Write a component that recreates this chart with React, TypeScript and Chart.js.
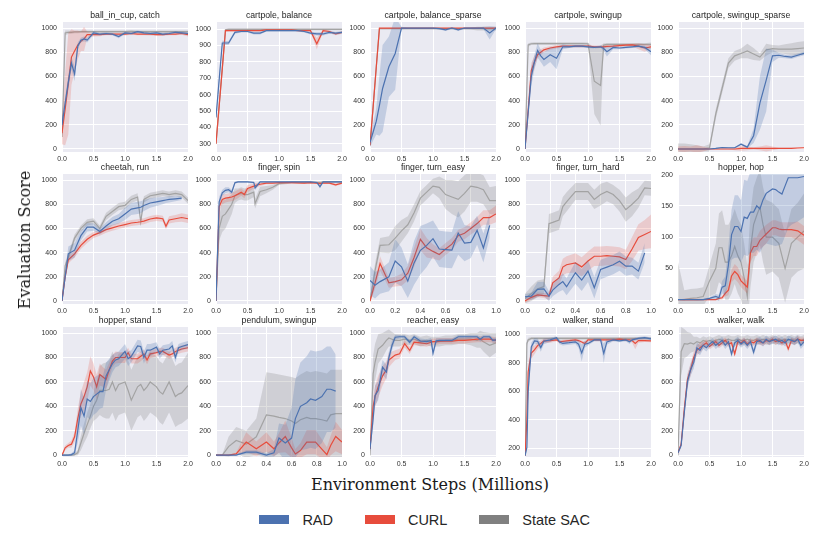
import { useEffect, useRef } from "react";
import { Chart, registerables } from "chart.js";

Chart.register(...registerables);
Chart.defaults.font.family = '"Liberation Sans", Arial, sans-serif';

const RAD_COLOR = "#4c72b0";
const CURL_COLOR = "#e74c3c";
const SAC_LINE = "#a3a3a3";
const SAC_LEGEND = "#808080";
const RAD_BAND = "rgba(76, 114, 176, 0.25)";
const CURL_BAND = "rgba(231, 76, 60, 0.2)";
const SAC_BAND = "rgba(128, 128, 128, 0.25)";

type Num = number | null;

// tick labels
const yTicks1000 = [0, 200, 400, 600, 800, 1000];
const yTicksBalance = [300, 400, 500, 600, 700, 800, 900, 1000];
const yTicksHop = [0, 50, 100, 150, 200];
const yTicksWalkerStand = [200, 400, 600, 800, 1000];
const xTicks2M = [0, 0.5, 1, 1.5, 2];
const xTicks1M = [0, 0.2, 0.4, 0.6, 0.8, 1];

// ball_in_cup, catch
const ballX = [0, 0.05, 0.1, 0.15, 0.2, 0.25, 0.3, 0.35, 0.4, 0.5, 0.6, 0.7, 0.8, 0.9, 1.0, 1.1, 1.2, 1.3, 1.4, 1.5, 1.6, 1.7, 1.8, 1.9, 2.0];
const ballRad = [200, 380, 550, 710, 620, 850, 900, 910, 900, 960, 950, 955, 950, 930, 960, 955, 970, 960, 955, 960, 950, 955, 965, 960, 955];
const ballRadSd = [40, 50, 60, 50, 60, 30, 20, 20, 20, 15, 10, 10, 10, 15, 10, 10, 10, 10, 10, 10, 10, 10, 10, 10, 10];
const ballCurl = [130, 330, 540, 760, 810, 860, 890, 910, 945, 945, 945, 950, 950, 950, 950, 955, 950, 950, 950, 945, 945, 950, 950, 955, 945];
const ballCurlSd = [90, 300, 420, 230, 170, 120, 80, 100, 25, 15, 12, 10, 10, 10, 12, 10, 10, 10, 12, 10, 10, 10, 10, 10, 15];
const ballSac = [100, 960, 965, 965, 968, 968, 970, 970, 970, 970, 970, 970, 970, 970, 970, 972, 970, 970, 970, 970, 970, 970, 970, 970, 970];
const ballSacSd = [20, 20, 15, 12, 10, 10, 10, 10, 10, 10, 10, 10, 10, 10, 10, 10, 10, 10, 10, 10, 10, 10, 10, 10, 10];

// cartpole, balance
const cpBalX = [0, 0.05, 0.1, 0.15, 0.2, 0.3, 0.4, 0.5, 0.6, 0.7, 0.8, 0.9, 1.0, 1.1, 1.2, 1.3, 1.4, 1.5, 1.6, 1.7, 1.8, 1.9, 2.0];
const cpBalRad = [460, 690, 915, 915, 915, 980, 985, 985, 975, 975, 990, 990, 990, 990, 990, 990, 985, 975, 970, 970, 980, 975, 980];
const cpBalRadSd = [20, 20, 15, 12, 12, 8, 6, 6, 8, 8, 5, 5, 5, 5, 5, 5, 6, 8, 10, 10, 8, 8, 8];
const cpBalCurl = [300, 530, 760, 990, 990, 990, 990, 990, 990, 990, 995, 995, 995, 995, 995, 990, 990, 990, 910, 990, 985, 970, 980];
const cpBalCurlSd = [10, 15, 15, 8, 5, 5, 5, 5, 5, 5, 4, 4, 4, 4, 4, 5, 5, 5, 35, 8, 8, 8, 8];
const cpBalSac = [300, 530, 760, 995, 998, 998, 998, 998, 998, 998, 998, 998, 998, 998, 998, 998, 998, 998, 998, 998, 998, 998, 998];
const cpBalSacSd = [6, 6, 6, 6, 6, 6, 6, 6, 6, 6, 6, 6, 6, 6, 6, 6, 6, 6, 6, 6, 6, 6, 6];

// cartpole, balance_sparse
const cpSparseX = [0, 0.05, 0.1, 0.15, 0.2, 0.3, 0.4, 0.5, 0.6, 0.7, 0.8, 0.9, 1.0, 1.1, 1.2, 1.3, 1.4, 1.5, 1.6, 1.7, 1.8, 1.9, 2.0];
const cpSparseRad = [55, 140, 230, 360, 500, 680, 790, 1000, 1000, 1000, 1000, 1000, 1000, 995, 985, 1000, 985, 1000, 1000, 1000, 1000, 960, 1000];
const cpSparseRadSd = [40, 70, 110, 250, 360, 250, 300, 10, 5, 5, 5, 5, 5, 8, 10, 8, 10, 5, 5, 5, 10, 55, 10];
const cpSparseCurl = [30, 350, 680, 1000, 1000, 1000, 1000, 1000, 1000, 1000, 1000, 1000, 1000, 1000, 1000, 1000, 1000, 1000, 1000, 1000, 1000, 1000, 1000];
const cpSparseCurlSd = [10, 10, 10, 3, 3, 3, 3, 3, 3, 3, 3, 3, 3, 3, 3, 3, 3, 3, 3, 3, 3, 3, 3];
const cpSparseSac = [30, 350, 680, 995, 995, 995, 995, 995, 995, 995, 995, 995, 995, 995, 995, 995, 995, 995, 995, 995, 995, 995, 995];
const cpSparseSacSd = [5, 5, 5, 5, 5, 5, 5, 5, 5, 5, 5, 5, 5, 5, 5, 5, 5, 5, 8, 15, 15, 15, 15];

// cartpole, swingup
const cpSwingX = [0, 0.05, 0.1, 0.15, 0.2, 0.25, 0.3, 0.4, 0.5, 0.6, 0.7, 0.8, 0.9, 1.0, 1.1, 1.2, 1.25, 1.3, 1.4, 1.5, 1.6, 1.7, 1.8, 1.9, 2.0];
const cpSwingRad = [0, 300, 600, 720, 815, 770, 740, 780, 750, 845, 845, 850, 850, 845, 840, 845, 830, 805, 840, 835, 840, 845, 850, 840, 805];
const cpSwingRadSd = [10, 50, 80, 60, 60, 50, 60, 60, 90, 20, 10, 10, 10, 10, 10, 10, 20, 40, 15, 10, 10, 10, 10, 15, 30];
const cpSwingCurl = [0, 320, 650, 720, 780, 800, 820, 835, 845, 850, 850, 850, 850, 850, 845, 845, 845, 848, 850, 855, 858, 860, 850, 835, 845];
const cpSwingCurlSd = [10, 40, 60, 50, 30, 25, 20, 15, 15, 10, 10, 10, 10, 10, 10, 10, 10, 10, 10, 10, 10, 10, 25, 30, 15];
const cpSwingSac = [0, 860, 870, 872, 872, 872, 872, 872, 872, 872, 872, 872, 872, 870, 560, 525, 860, 865, 865, 865, 865, 865, 865, 865, 865];
const cpSwingSacSd = [10, 15, 10, 10, 10, 10, 10, 10, 10, 10, 10, 10, 10, 10, 270, 330, 15, 10, 10, 10, 10, 10, 10, 10, 15];

// cartpole, swingup_sparse
const cpSwSpX = [0, 0.1, 0.2, 0.3, 0.4, 0.5, 0.6, 0.7, 0.8, 0.9, 1.0, 1.1, 1.2, 1.3, 1.4, 1.5, 1.6, 1.7, 1.8, 1.9, 2.0];
const cpSwSpRad = [0, 0, 0, 0, 0, 0, 5, 12, 10, 10, 40, 15, 110, 380, 570, 770, 775, 765, 760, 775, 790];
const cpSwSpRadSd = [0, 0, 0, 0, 0, 0, 5, 5, 5, 5, 10, 10, 60, 220, 260, 50, 20, 15, 15, 15, 15];
const cpSwSpCurl = [0, 0, 0, 0, 0, 0, 0, 0, 0, 0, 5, 5, 5, 5, 5, 5, 5, 5, 5, 8, 10];
const cpSwSpCurlSd = [20, 25, 20, 30, 20, 5, 5, 5, 5, 10, 20, 15, 10, 15, 25, 15, 5, 5, 5, 5, 5];
const cpSwSpSac = [0, 0, 0, 0, 0, 10, 290, 500, 710, 770, 790, 810, 785, 760, 820, 830, 825, 825, 825, 830, 835];
const cpSwSpSacSd = [45, 45, 40, 30, 20, 30, 40, 40, 40, 40, 40, 60, 50, 30, 50, 30, 30, 40, 50, 55, 55];

// cheetah, run
const cheetahX = [0, 0.05, 0.1, 0.2, 0.3, 0.4, 0.5, 0.6, 0.7, 0.8, 0.9, 1.0, 1.1, 1.2, 1.25, 1.3, 1.4, 1.5, 1.6, 1.65, 1.7, 1.8, 1.9, 2.0];
const cheetahRad: Num[] = [0, 200, 390, 420, 540, 610, 610, 575, 620, 660, 680, 720, 760, 770, 775, 790, 810, 820, 830, 835, 840, 845, 850, null];
const cheetahRadSd: Num[] = [10, 40, 60, 60, 40, 35, 30, 25, 30, 35, 40, 50, 50, 50, 50, 45, 40, 35, 30, 25, 25, 20, 15, null];
const cheetahCurl = [0, 200, 340, 390, 460, 510, 545, 565, 590, 605, 620, 632, 645, 651, 655, 660, 678, 687, 680, 618, 670, 680, 690, 680];
const cheetahCurlSd = [10, 30, 30, 30, 30, 30, 25, 25, 25, 25, 25, 25, 25, 25, 25, 25, 25, 25, 25, 25, 30, 30, 35, 35];
const cheetahSac = [0, 290, 360, 520, 600, 650, 660, 600, 700, 740, 780, 790, 840, 860, 655, 840, 870, 880, 890, 885, 880, 890, 880, 830];
const cheetahSacSd = [10, 30, 30, 30, 25, 25, 25, 25, 30, 30, 30, 30, 30, 30, 20, 25, 25, 25, 25, 25, 25, 25, 25, 25];

// finger, spin
const fSpinX = [0, 0.05, 0.1, 0.15, 0.2, 0.25, 0.3, 0.35, 0.4, 0.45, 0.5, 0.6, 0.62, 0.7, 0.8, 0.9, 1.0, 1.2, 1.4, 1.5, 1.6, 1.65, 1.7, 1.8, 1.9, 2.0];
const fSpinRad = [0, 820, 895, 915, 920, 900, 978, 985, 985, 985, 985, 980, 935, 985, 985, 985, 985, 985, 985, 985, 980, 945, 985, 985, 985, 985];
const fSpinRadSd = [5, 40, 25, 25, 20, 20, 10, 8, 8, 8, 8, 8, 20, 8, 5, 5, 5, 5, 5, 5, 5, 15, 5, 5, 5, 5];
const fSpinCurl = [0, 780, 840, 850, 855, 860, 870, 885, 900, 880, 930, 950, 955, 965, 975, 975, 978, 978, 975, 978, 975, 970, 975, 975, 960, 975];
const fSpinCurlSd = [5, 40, 40, 35, 35, 35, 35, 35, 30, 30, 30, 20, 20, 15, 10, 10, 8, 8, 8, 8, 8, 8, 8, 8, 12, 8];
const fSpinSac = [0, 600, 700, 720, 760, 800, 870, 880, 890, 880, 880, 900, 805, 905, 920, 940, 970, 980, 980, 980, 980, 980, 985, 985, 985, 985];
const fSpinSacSd = [5, 100, 130, 120, 100, 80, 60, 50, 50, 50, 50, 40, 40, 40, 30, 20, 10, 8, 8, 8, 8, 8, 8, 8, 8, 8];

// finger, turn_easy
const fEasyX = [0, 0.04, 0.08, 0.15, 0.2, 0.25, 0.3, 0.35, 0.4, 0.45, 0.5, 0.55, 0.6, 0.65, 0.7, 0.75, 0.8, 0.85, 0.9, 0.95, 1.0];
const fEasyRad: Num[] = [170, 130, 160, 200, 330, 282, 164, 315, 419, 460, 515, 430, 425, 420, 562, 479, 485, 584, 438, 625, null];
const fEasyRadSd: Num[] = [120, 110, 100, 120, 180, 160, 140, 180, 200, 180, 150, 150, 150, 150, 180, 150, 130, 120, 120, 100, null];
const fEasyCurl = [0, 150, 310, 150, 160, 175, 230, 360, 510, 440, 410, 385, 430, 470, 540, 560, 600, 640, 690, 690, 720];
const fEasyCurlSd = [10, 50, 60, 40, 40, 50, 60, 80, 90, 80, 60, 50, 50, 50, 50, 50, 50, 55, 60, 60, 70];
const fEasySac = [0, 250, 460, 465, 520, 580, 630, 730, 850, 900, 950, 940, 880, 860, 840, 890, 950, 940, 920, 830, 830];
const fEasySacSd = [20, 60, 60, 70, 100, 90, 70, 70, 60, 60, 60, 90, 120, 140, 150, 150, 130, 120, 120, 110, 120];

// finger, turn_hard
const fHardX = [0, 0.05, 0.1, 0.15, 0.19, 0.22, 0.27, 0.3, 0.33, 0.4, 0.45, 0.5, 0.55, 0.6, 0.65, 0.7, 0.75, 0.8, 0.85, 0.9, 0.95, 1.0];
const fHardRad: Num[] = [35, 40, 96, 100, 40, 90, 137, 160, 118, 233, 173, 247, 110, 260, 280, 300, 329, 288, 288, 247, 398, null];
const fHardRadSd: Num[] = [20, 30, 60, 60, 40, 50, 60, 70, 70, 90, 90, 90, 90, 80, 80, 80, 80, 80, 70, 70, 80, null];
const fHardCurl = [0, 30, 50, 45, 40, 150, 190, 280, 300, 315, 282, 330, 370, 370, 375, 370, 365, 343, 430, 525, 550, 575];
const fHardCurlSd = [15, 20, 20, 20, 30, 50, 60, 70, 70, 80, 80, 80, 80, 80, 80, 80, 80, 80, 100, 110, 120, 140];
const fHardSac = [20, 60, 100, 120, 640, 650, 670, 780, 820, 905, 905, 905, 840, 880, 905, 880, 830, 755, 800, 850, 935, 930];
const fHardSacSd = [40, 60, 70, 60, 80, 80, 80, 80, 80, 70, 70, 70, 80, 90, 80, 80, 90, 100, 100, 80, 60, 60];

// hopper, hop
const hopX = [0, 0.1, 0.2, 0.3, 0.4, 0.5, 0.6, 0.65, 0.7, 0.75, 0.8, 0.85, 0.9, 0.95, 1.0, 1.05, 1.1, 1.15, 1.2, 1.25, 1.3, 1.35, 1.4, 1.5, 1.55, 1.6, 1.65, 1.7, 1.75, 1.8, 1.9, 2.0];
const hopRad = [0, 0, 0, 0, 0, 2, 5, 3, 20, 22, 55, 104, 117, 117, 109, 132, 130, 140, 140, 150, 145, 160, 170, 177, 176, 172, 169, 182, 195, 195, 195, 197];
const hopRadSd = [0, 0, 0, 1, 1, 2, 4, 5, 10, 15, 30, 40, 50, 50, 50, 60, 60, 65, 65, 70, 70, 75, 80, 90, 90, 85, 80, 80, 80, 75, 70, 65];
const hopCurl = [0, 0, 0, 0, 0, 0, 0, 2, 3, 10, 15, 38, 45, 40, 30, 25, 20, 75, 85, 85, 95, 100, 105, 115, 115, 113, 112, 112, 112, 112, 110, 103];
const hopCurlSd = [0, 2, 2, 2, 1, 1, 1, 2, 3, 5, 8, 10, 12, 12, 10, 10, 10, 15, 15, 15, 15, 15, 15, 12, 12, 12, 12, 12, 12, 12, 15, 15];
const hopSac = [0, 0, 2, 3, 5, 30, 50, 83, 83, 60, 60, 70, 85, 70, 60, 35, 5, 80, 120, 135, 148, 120, 100, 100, 95, 90, 70, 50, 70, 90, 100, 110];
const hopSacSd = [60, 15, 15, 15, 15, 25, 40, 55, 60, 60, 60, 60, 60, 60, 60, 55, 50, 60, 60, 60, 60, 60, 60, 55, 55, 55, 55, 55, 55, 55, 55, 60];

// hopper, stand
const hStandX = [0, 0.05, 0.1, 0.15, 0.2, 0.25, 0.3, 0.35, 0.4, 0.45, 0.5, 0.55, 0.6, 0.65, 0.7, 0.75, 0.8, 0.85, 0.9, 1.0, 1.05, 1.1, 1.2, 1.25, 1.3, 1.35, 1.4, 1.5, 1.55, 1.6, 1.7, 1.75, 1.8, 1.85, 1.9, 2.0];
const hStandRad = [0, 0, 0, 5, 20, 200, 390, 320, 460, 440, 480, 500, 520, 520, 650, 700, 750, 780, 790, 850, 790, 810, 895, 890, 800, 860, 860, 885, 830, 860, 870, 895, 800, 880, 890, 905];
const hStandRadSd = [5, 5, 5, 10, 20, 100, 150, 150, 150, 150, 150, 150, 140, 130, 110, 90, 70, 60, 60, 60, 60, 50, 50, 50, 50, 50, 50, 40, 40, 40, 40, 40, 40, 30, 30, 30];
const hStandCurl = [0, 60, 80, 90, 150, 300, 420, 480, 560, 690, 640, 560, 660, 640, 620, 700, 770, 800, 800, 800, 840, 790, 790, 810, 830, 780, 830, 840, 850, 850, 820, 830, 850, 860, 870, 880];
const hStandCurlSd = [10, 20, 20, 30, 40, 80, 100, 120, 120, 120, 110, 100, 90, 80, 80, 60, 50, 50, 45, 45, 40, 40, 40, 40, 35, 35, 35, 30, 30, 30, 30, 30, 30, 30, 30, 30];
const hStandSac = [0, 0, 0, 0, 5, 20, 100, 180, 250, 320, 400, 450, 530, 530, 530, 540, 600, 530, 580, 600, 530, 450, 560, 580, 530, 560, 600, 560, 520, 500, 600, 540, 480, 500, 510, 570];
const hStandSacSd = [5, 5, 5, 5, 10, 20, 60, 80, 100, 100, 120, 150, 200, 220, 230, 240, 250, 250, 250, 250, 250, 250, 250, 250, 250, 250, 250, 250, 250, 250, 250, 250, 250, 250, 250, 270];

// pendulum, swingup
const pendX = [0, 0.05, 0.1, 0.16, 0.24, 0.32, 0.4, 0.46, 0.5, 0.55, 0.6, 0.63, 0.67, 0.72, 0.75, 0.79, 0.84, 0.88, 0.91, 0.95, 1.0];
const pendRad: Num[] = [0, 0, 0, 0, 25, 25, 0, 20, 140, 100, 140, 300, 400, 430, 460, 450, 480, 540, 540, 525, null];
const pendRadSd: Num[] = [5, 5, 5, 5, 15, 15, 15, 30, 120, 150, 250, 320, 360, 380, 400, 400, 380, 350, 350, 300, null];
const pendCurl = [0, 0, 0, 10, 107, 52, 107, 52, 100, 153, 60, 10, 38, 107, 107, 107, 50, 5, 80, 153, 107];
const pendCurlSd = [5, 5, 5, 10, 80, 60, 80, 60, 80, 130, 80, 40, 60, 100, 100, 100, 80, 60, 80, 120, 100];
const pendSac = [0, 0, 70, 120, 90, 150, 330, 320, 310, 300, 280, 260, 290, 310, 300, 300, 290, 280, 330, 340, 340];
const pendSacSd = [5, 5, 80, 110, 110, 150, 350, 350, 350, 350, 360, 370, 370, 380, 380, 390, 390, 390, 370, 360, 360];

// reacher, easy
const reacherX = [0, 0.05, 0.08, 0.13, 0.2, 0.26, 0.3, 0.35, 0.4, 0.47, 0.55, 0.63, 0.7, 0.8, 0.9, 0.97, 1.0, 1.05, 1.1, 1.2, 1.3, 1.4, 1.5, 1.6, 1.7, 1.75, 1.8, 1.9, 1.95, 2.0];
const reacherRad = [50, 300, 489, 530, 720, 680, 800, 900, 966, 970, 970, 925, 970, 935, 930, 940, 836, 937, 940, 940, 940, 970, 970, 970, 970, 950, 970, 970, 940, 945];
const reacherRadSd = [20, 60, 80, 80, 60, 60, 50, 40, 20, 15, 15, 20, 15, 20, 20, 20, 40, 20, 15, 15, 15, 15, 15, 15, 15, 20, 15, 15, 20, 20];
const reacherCurl = [50, 400, 480, 560, 650, 700, 780, 800, 820, 831, 913, 858, 926, 920, 913, 925, 930, 930, 935, 935, 935, 940, 940, 945, 950, 950, 950, 950, 945, 940];
const reacherCurlSd = [20, 80, 90, 90, 80, 70, 60, 50, 40, 40, 30, 30, 25, 25, 25, 25, 25, 25, 25, 25, 25, 25, 25, 25, 25, 25, 25, 25, 25, 25];
const reacherSac = [0, 667, 760, 870, 900, 940, 960, 950, 940, 940, 950, 940, 950, 930, 940, 930, 930, 930, 930, 940, 940, 950, 950, 950, 940, 950, 930, 900, 910, 920];
const reacherSacSd = [20, 150, 150, 120, 100, 80, 70, 60, 50, 50, 40, 40, 40, 40, 40, 40, 40, 40, 40, 40, 40, 40, 40, 50, 60, 70, 80, 100, 90, 80];

// walker, stand
const wStandX = [0, 0.03, 0.05, 0.1, 0.15, 0.2, 0.25, 0.3, 0.4, 0.5, 0.55, 0.6, 0.7, 0.8, 0.85, 0.9, 0.95, 1.0, 1.1, 1.2, 1.25, 1.3, 1.4, 1.5, 1.6, 1.66, 1.7, 1.75, 1.8, 1.9, 2.0];
const wStandRad = [148, 207, 600, 911, 953, 950, 906, 950, 960, 975, 945, 935, 940, 946, 930, 868, 930, 935, 960, 960, 866, 946, 960, 953, 960, 946, 960, 965, 970, 975, 967];
const wStandRadSd = [10, 20, 60, 30, 20, 20, 30, 20, 15, 10, 15, 15, 15, 15, 25, 60, 25, 15, 10, 10, 70, 20, 10, 10, 10, 15, 10, 10, 10, 10, 10];
const wStandCurl = [148, 400, 735, 868, 890, 920, 935, 953, 955, 960, 946, 950, 955, 960, 955, 945, 935, 960, 960, 960, 960, 960, 960, 965, 960, 960, 955, 935, 955, 955, 953];
const wStandCurlSd = [10, 40, 60, 40, 30, 25, 20, 15, 15, 10, 10, 10, 10, 10, 10, 10, 15, 10, 10, 10, 10, 10, 10, 10, 10, 10, 15, 40, 15, 10, 10];
const wStandSac = [150, 935, 960, 970, 970, 970, 970, 970, 970, 970, 970, 970, 970, 970, 970, 970, 970, 970, 970, 970, 970, 970, 970, 970, 970, 970, 970, 970, 970, 970, 970];
const wStandSacSd = [10, 20, 15, 10, 10, 10, 10, 10, 10, 10, 10, 10, 10, 10, 10, 10, 10, 10, 10, 10, 10, 10, 10, 10, 10, 10, 10, 10, 10, 10, 10];

// walker, walk
const wWalkX = [0, 0.05, 0.1, 0.15, 0.2, 0.25, 0.3, 0.35, 0.4, 0.45, 0.5, 0.55, 0.6, 0.65, 0.7, 0.75, 0.8, 0.85, 0.9, 0.95, 1.0, 1.05, 1.1, 1.15, 1.2, 1.25, 1.3, 1.35, 1.4, 1.45, 1.5, 1.55, 1.6, 1.65, 1.7, 1.75, 1.8, 1.85, 1.9, 1.95, 2.0];
const wWalkRad = [20, 80, 350, 600, 700, 760, 880, 858, 900, 880, 910, 930, 900, 920, 940, 900, 930, 830, 920, 940, 910, 930, 900, 930, 844, 930, 940, 920, 950, 930, 940, 950, 930, 940, 920, 950, 940, 930, 950, 900, 930];
const wWalkRadSd = [10, 20, 40, 50, 50, 50, 40, 40, 30, 30, 30, 30, 30, 30, 30, 30, 30, 30, 30, 30, 30, 30, 30, 30, 30, 30, 30, 30, 30, 30, 30, 30, 30, 30, 30, 30, 30, 30, 30, 30, 30];
const wWalkCurl = [20, 90, 380, 620, 700, 800, 860, 880, 900, 920, 890, 910, 930, 900, 920, 940, 910, 920, 830, 930, 920, 940, 910, 930, 920, 940, 930, 920, 940, 930, 950, 930, 940, 920, 940, 871, 940, 930, 950, 940, 940];
const wWalkCurlSd = [10, 20, 40, 50, 50, 50, 40, 40, 30, 30, 25, 25, 25, 25, 25, 25, 25, 25, 25, 25, 25, 25, 25, 25, 25, 25, 25, 25, 25, 25, 25, 25, 25, 25, 25, 25, 25, 25, 25, 25, 25];
const wWalkSac = [0, 850, 913, 910, 920, 910, 930, 920, 940, 930, 940, 930, 940, 950, 940, 940, 950, 940, 940, 950, 940, 940, 950, 940, 940, 950, 940, 950, 940, 940, 950, 940, 950, 940, 950, 940, 950, 940, 950, 940, 950];
const wWalkSacSd = [20, 200, 120, 100, 80, 60, 40, 35, 35, 35, 35, 35, 35, 35, 35, 35, 35, 35, 35, 35, 35, 35, 35, 35, 35, 35, 35, 35, 35, 35, 35, 35, 35, 35, 35, 35, 35, 35, 35, 35, 35];

interface PanelData {
  title: string;
  x: number[];
  rad: Num[];
  radSd: Num[];
  curl: Num[];
  curlSd: Num[];
  sac: Num[];
  sacSd: Num[];
  yMin: number;
  yMax: number;
  yTicks: number[];
  xMax: number;
  xTicks: number[];
}

const panels: PanelData[] = [
  { title: "ball_in_cup, catch", x: ballX, rad: ballRad, radSd: ballRadSd, curl: ballCurl, curlSd: ballCurlSd, sac: ballSac, sacSd: ballSacSd, yMin: -25, yMax: 1050, yTicks: yTicks1000, xMax: 2, xTicks: xTicks2M },
  { title: "cartpole, balance", x: cpBalX, rad: cpBalRad, radSd: cpBalRadSd, curl: cpBalCurl, curlSd: cpBalCurlSd, sac: cpBalSac, sacSd: cpBalSacSd, yMin: 250, yMax: 1043, yTicks: yTicksBalance, xMax: 2, xTicks: xTicks2M },
  { title: "cartpole, balance_sparse", x: cpSparseX, rad: cpSparseRad, radSd: cpSparseRadSd, curl: cpSparseCurl, curlSd: cpSparseCurlSd, sac: cpSparseSac, sacSd: cpSparseSacSd, yMin: -25, yMax: 1050, yTicks: yTicks1000, xMax: 2, xTicks: xTicks2M },
  { title: "cartpole, swingup", x: cpSwingX, rad: cpSwingRad, radSd: cpSwingRadSd, curl: cpSwingCurl, curlSd: cpSwingCurlSd, sac: cpSwingSac, sacSd: cpSwingSacSd, yMin: -25, yMax: 1050, yTicks: yTicks1000, xMax: 2, xTicks: xTicks2M },
  { title: "cartpole, swingup_sparse", x: cpSwSpX, rad: cpSwSpRad, radSd: cpSwSpRadSd, curl: cpSwSpCurl, curlSd: cpSwSpCurlSd, sac: cpSwSpSac, sacSd: cpSwSpSacSd, yMin: -25, yMax: 1050, yTicks: yTicks1000, xMax: 2, xTicks: xTicks2M },
  { title: "cheetah, run", x: cheetahX, rad: cheetahRad, radSd: cheetahRadSd, curl: cheetahCurl, curlSd: cheetahCurlSd, sac: cheetahSac, sacSd: cheetahSacSd, yMin: -25, yMax: 1050, yTicks: yTicks1000, xMax: 2, xTicks: xTicks2M },
  { title: "finger, spin", x: fSpinX, rad: fSpinRad, radSd: fSpinRadSd, curl: fSpinCurl, curlSd: fSpinCurlSd, sac: fSpinSac, sacSd: fSpinSacSd, yMin: -25, yMax: 1050, yTicks: yTicks1000, xMax: 2, xTicks: xTicks2M },
  { title: "finger, turn_easy", x: fEasyX, rad: fEasyRad, radSd: fEasyRadSd, curl: fEasyCurl, curlSd: fEasyCurlSd, sac: fEasySac, sacSd: fEasySacSd, yMin: -25, yMax: 1050, yTicks: yTicks1000, xMax: 1, xTicks: xTicks1M },
  { title: "finger, turn_hard", x: fHardX, rad: fHardRad, radSd: fHardRadSd, curl: fHardCurl, curlSd: fHardCurlSd, sac: fHardSac, sacSd: fHardSacSd, yMin: -25, yMax: 1050, yTicks: yTicks1000, xMax: 1, xTicks: xTicks1M },
  { title: "hopper, hop", x: hopX, rad: hopRad, radSd: hopRadSd, curl: hopCurl, curlSd: hopCurlSd, sac: hopSac, sacSd: hopSacSd, yMin: -7, yMax: 201, yTicks: yTicksHop, xMax: 2, xTicks: xTicks2M },
  { title: "hopper, stand", x: hStandX, rad: hStandRad, radSd: hStandRadSd, curl: hStandCurl, curlSd: hStandCurlSd, sac: hStandSac, sacSd: hStandSacSd, yMin: -15, yMax: 1050, yTicks: yTicks1000, xMax: 2, xTicks: xTicks2M },
  { title: "pendulum, swingup", x: pendX, rad: pendRad, radSd: pendRadSd, curl: pendCurl, curlSd: pendCurlSd, sac: pendSac, sacSd: pendSacSd, yMin: -15, yMax: 1050, yTicks: yTicks1000, xMax: 1, xTicks: xTicks1M },
  { title: "reacher, easy", x: reacherX, rad: reacherRad, radSd: reacherRadSd, curl: reacherCurl, curlSd: reacherCurlSd, sac: reacherSac, sacSd: reacherSacSd, yMin: -15, yMax: 1050, yTicks: yTicks1000, xMax: 2, xTicks: xTicks2M },
  { title: "walker, stand", x: wStandX, rad: wStandRad, radSd: wStandRadSd, curl: wStandCurl, curlSd: wStandCurlSd, sac: wStandSac, sacSd: wStandSacSd, yMin: 140, yMax: 1050, yTicks: yTicksWalkerStand, xMax: 2, xTicks: xTicks2M },
  { title: "walker, walk", x: wWalkX, rad: wWalkRad, radSd: wWalkRadSd, curl: wWalkCurl, curlSd: wWalkCurlSd, sac: wWalkSac, sacSd: wWalkSacSd, yMin: -15, yMax: 1050, yTicks: yTicks1000, xMax: 2, xTicks: xTicks2M },
];

// panel geometry (plot area of each subplot)
const PLOT_W = 126;
const PLOT_H = 130;
const AXIS_W = 34;
const TOP_PAD = 20;
const XAXIS_H = 14;
const RIGHT_PAD = 8;
const colLeft = [62, 216, 370, 525, 678];
const rowTop = [22, 174, 327];

function SmallChart({ panel, left, top }: { panel: PanelData; left: number; top: number }) {
  const canvasRef = useRef<HTMLCanvasElement>(null);

  useEffect(() => {
    if (!canvasRef.current) return;

    const pts = (arr: Num[]) => panel.x.map((xv, i) => ({ x: xv, y: arr[i] }));
    const offset = (mean: Num[], sd: Num[], sign: number) =>
      mean.map((v, i) => (v === null || sd[i] === null ? null : v + sign * (sd[i] as number)));

    // band (lo, hi filled to lo) + mean line; lower order is drawn on top
    const series = (mean: Num[], sd: Num[], line: string, band: string, order: number) => [
      { data: pts(offset(mean, sd, -1)), borderColor: "transparent", borderWidth: 0, fill: false, order: order + 1 },
      { data: pts(offset(mean, sd, 1)), borderColor: "transparent", borderWidth: 0, backgroundColor: band, fill: "-1", order: order + 1 },
      { data: pts(mean), borderColor: line, borderWidth: 1.2, fill: false, order },
    ];

    const decor = {
      id: "panelDecor",
      beforeDraw(chart: Chart) {
        const { ctx, chartArea: a } = chart;
        ctx.save();
        ctx.fillStyle = "#eaeaf2";
        ctx.fillRect(a.left, a.top, a.right - a.left, a.bottom - a.top);
        ctx.restore();
      },
      afterDraw(chart: Chart) {
        const { ctx, chartArea: a } = chart;
        ctx.save();
        ctx.font = '8.7px "Liberation Sans", Arial, sans-serif';
        ctx.fillStyle = "#262626";
        ctx.textAlign = "center";
        ctx.textBaseline = "alphabetic";
        ctx.fillText(panel.title, (a.left + a.right) / 2, a.top - 4.5);
        ctx.restore();
      },
    };

    const chart = new Chart(canvasRef.current, {
      type: "line",
      data: {
        datasets: [
          ...series(panel.sac, panel.sacSd, SAC_LINE, SAC_BAND, 5),
          ...series(panel.curl, panel.curlSd, CURL_COLOR, CURL_BAND, 3),
          ...series(panel.rad, panel.radSd, RAD_COLOR, RAD_BAND, 1),
        ] as any,
      },
      options: {
        animation: false,
        responsive: false,
        events: [],
        layout: { padding: { top: TOP_PAD, right: RIGHT_PAD, left: 0, bottom: 0 } },
        elements: { point: { radius: 0 }, line: { tension: 0 } },
        plugins: { legend: { display: false }, tooltip: { enabled: false } },
        scales: {
          x: {
            type: "linear",
            min: 0,
            max: panel.xMax,
            afterBuildTicks: (s: any) => {
              s.ticks = panel.xTicks.map((v) => ({ value: v }));
            },
            afterFit: (s: any) => {
              s.height = XAXIS_H;
            },
            grid: { color: "#ffffff", lineWidth: 1, drawTicks: false },
            border: { display: false },
            ticks: {
              padding: 3,
              color: "#333333",
              font: { size: 7 },
              autoSkip: false,
              maxRotation: 0,
              callback: (v: any) => Number(v).toFixed(1),
            },
          },
          y: {
            type: "linear",
            min: panel.yMin,
            max: panel.yMax,
            afterBuildTicks: (s: any) => {
              s.ticks = panel.yTicks.map((v) => ({ value: v }));
            },
            afterFit: (s: any) => {
              s.width = AXIS_W;
            },
            grid: { color: "#ffffff", lineWidth: 1, drawTicks: false },
            border: { display: false },
            ticks: {
              padding: 5,
              color: "#333333",
              font: { size: 7 },
              autoSkip: false,
              callback: (v: any) => String(v),
            },
          },
        },
      },
      plugins: [decor],
    });

    return () => {
      chart.destroy();
    };
  }, [panel]);

  return (
    <canvas
      ref={canvasRef}
      width={PLOT_W + AXIS_W + RIGHT_PAD}
      height={PLOT_H + TOP_PAD + XAXIS_H}
      style={{ position: "absolute", left: left - AXIS_W, top: top - TOP_PAD }}
    />
  );
}

const legendItems = [
  { label: "RAD", color: RAD_COLOR },
  { label: "CURL", color: CURL_COLOR },
  { label: "State SAC", color: SAC_LEGEND },
];

export default function App() {
  return (
    <div
      style={{
        position: "fixed",
        left: 0,
        top: 0,
        width: 831,
        height: 538,
        background: "#ffffff",
        overflow: "hidden",
      }}
    >
      {panels.map((p, i) => (
        <SmallChart key={p.title} panel={p} left={colLeft[i % 5]} top={rowTop[Math.floor(i / 5)]} />
      ))}
      <div
        style={{
          position: "absolute",
          left: 24.5,
          top: 240,
          transform: "translate(-50%, -50%) rotate(-90deg)",
          whiteSpace: "nowrap",
          fontFamily: '"DejaVu Serif", serif',
          fontSize: 16,
          lineHeight: "16px",
          color: "#1a1a1a",
        }}
      >
        Evaluation Score
      </div>
      <div
        style={{
          position: "absolute",
          left: 230,
          width: 400,
          top: 477.2,
          textAlign: "center",
          whiteSpace: "nowrap",
          fontFamily: '"DejaVu Serif", serif',
          fontSize: 16,
          lineHeight: "16px",
          color: "#1a1a1a",
        }}
      >
        Environment Steps (Millions)
      </div>
      <div
        style={{
          position: "absolute",
          left: 259,
          top: 511.5,
          height: 16,
          display: "flex",
          alignItems: "center",
          fontFamily: '"Liberation Sans", Arial, sans-serif',
          fontSize: 14.5,
          lineHeight: "16px",
          color: "#262626",
        }}
      >
        {legendItems.map((item) => (
          <div key={item.label} style={{ display: "flex", alignItems: "center", marginRight: 31.5 }}>
            <span style={{ display: "inline-block", width: 30, height: 9.5, background: item.color, marginRight: 13.4 }} />
            <span>{item.label}</span>
          </div>
        ))}
      </div>
    </div>
  );
}
